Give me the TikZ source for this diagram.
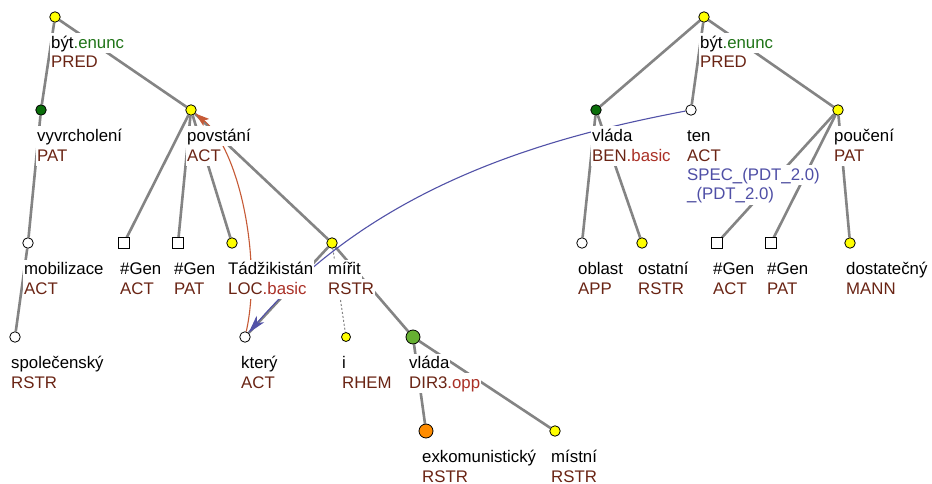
\documentclass[tikz,border=0pt]{standalone}
\usepackage{fontspec}
\setmainfont{Liberation Sans}
\usetikzlibrary{arrows.meta}
\definecolor{edgegray}{HTML}{848484}
\definecolor{funcol}{HTML}{6A2414}
\definecolor{suffred}{HTML}{AA3026}
\definecolor{suffgreen}{HTML}{1F7417}
\definecolor{specblue}{HTML}{4F4FA6}
\definecolor{usblue}{HTML}{2B2B8C}
\definecolor{corefblue}{HTML}{5252A8}
\definecolor{corefred}{HTML}{C65A36}
\definecolor{nodeyellow}{HTML}{FFFF00}
\definecolor{nodedkgreen}{HTML}{0A6E0A}
\definecolor{nodeltgreen}{HTML}{66B032}
\definecolor{nodeorange}{HTML}{FF8C00}
\pgfdeclarelayer{background}
\pgfdeclarelayer{edges}
\pgfsetlayers{background,edges,main}

\begin{document}
\begin{tikzpicture}[x=1pt, y=-1pt,
        tnode/.style={circle, draw, line width=0.8pt, inner sep=0pt, minimum size=10.5pt},
        yel/.style={tnode, fill=nodeyellow},
        wht/.style={tnode, fill=white},
        dgr/.style={tnode, fill=nodedkgreen},
        lgr/.style={tnode, fill=nodeltgreen, minimum size=14pt},
        org/.style={tnode, fill=nodeorange, minimum size=14pt},
        gen/.style={rectangle, draw, line width=0.8pt, fill=white, inner sep=0pt, minimum size=10.5pt},
        lem/.style={anchor=base west, fill=white, inner sep=1pt, text height=14pt, text depth=4pt, font=\fontsize{16.8}{20}\selectfont},
        fun/.style={lem, text=funcol},
        spec/.style={lem, text=specblue},
        edge/.style={draw=edgegray, line width=2.6pt},
        coref/.style={line width=1.1pt}
    ]
    \begin{pgfonlayer}{background}
        \fill[white] (0,0) rectangle (932,484);
    \end{pgfonlayer}
    \useasboundingbox (0,0) rectangle (932,484);

    % Left tree
    \node[yel] (byt1) at (55,17) {};
    \node[dgr] (vyvr) at (41,110) {};
    \node[yel] (povst) at (191,110) {};
    \node[wht] (mobil) at (28,243) {};
    \node[wht] (spol) at (15,337) {};
    \node[gen] (gena1) at (124,243) {};
    \node[gen] (genp1) at (178,243) {};
    \node[yel] (tadz) at (232,243) {};
    \node[yel] (mirit) at (332,243) {};
    \node[wht] (ktery) at (245,337) {};
    \node[yel, minimum size=9pt] (irhem) at (346,337) {};
    \node[lgr] (vlada2) at (413,337) {};
    \node[org] (exkom) at (426,431) {};
    \node[yel] (mistni) at (555,431) {};

    % Right tree
    \node[yel] (byt2) at (704,17) {};
    \node[dgr] (vlada1) at (596,110) {};
    \node[wht] (ten) at (691,110) {};
    \node[yel] (pouc) at (838,110) {};
    \node[wht] (oblast) at (582,243) {};
    \node[yel] (ostat) at (642,243) {};
    \node[gen] (gena2) at (717,243) {};
    \node[gen] (genp2) at (771,243) {};
    \node[yel] (dost) at (850,243) {};

    % Labels, left tree
    \node[lem] (byt1-t) at (50,48.5) {být\textcolor{suffgreen}{.enunc}};
    \node[fun] (byt1-f) at (50,68) {PRED};
    \node[lem] (vyvr-t) at (36,141.5) {vyvrcholení};
    \node[fun] (vyvr-f) at (36,161) {PAT};
    \node[lem] (povst-t) at (186,141.5) {povstání};
    \node[fun] (povst-f) at (186,161) {ACT};
    \node[lem] (mobil-t) at (23,274.5) {mobilizace};
    \node[fun] (mobil-f) at (23,294) {ACT};
    \node[lem] (spol-t) at (10,368.5) {společenský};
    \node[fun] (spol-f) at (10,388) {RSTR};
    \node[lem] (gena1-t) at (119,274.5) {\#Gen};
    \node[fun] (gena1-f) at (119,294) {ACT};
    \node[lem] (genp1-t) at (173,274.5) {\#Gen};
    \node[fun] (genp1-f) at (173,294) {PAT};
    \node[lem] (tadz-t) at (227,274.5) {Tádžikistán};
    \node[fun] (tadz-f) at (227,294) {LOC\textcolor{suffred}{.basic}};
    \node[lem] (mirit-t) at (327,274.5) {mířit};
    \node[fun] (mirit-f) at (327,294) {RSTR};
    \node[lem] (ktery-t) at (240,368.5) {který};
    \node[fun] (ktery-f) at (240,388) {ACT};
    \node[lem] (irhem-t) at (341,368.5) {i};
    \node[fun] (irhem-f) at (341,388) {RHEM};
    \node[lem] (vlada2-t) at (408,368.5) {vláda};
    \node[fun] (vlada2-f) at (408,388) {DIR3\textcolor{suffred}{.opp}};
    \node[lem] (exkom-t) at (421,462.5) {exkomunistický};
    \node[fun] (exkom-f) at (421,482) {RSTR};
    \node[lem] (mistni-t) at (550,462.5) {místní};
    \node[fun] (mistni-f) at (550,482) {RSTR};

    % Labels, right tree
    \node[lem] (byt2-t) at (699,48.5) {být\textcolor{suffgreen}{.enunc}};
    \node[fun] (byt2-f) at (699,68) {PRED};
    \node[lem] (vlada1-t) at (591,141.5) {vláda};
    \node[fun] (vlada1-f) at (591,161) {BEN\textcolor{suffred}{.basic}};
    \node[lem] (ten-t) at (686,141.5) {ten};
    \node[fun] (ten-f) at (686,161) {ACT};
    \node[spec] (ten-s1) at (686,180.5) {SPEC\textcolor{usblue}{\_}(PDT\textcolor{usblue}{\_}2.0)};
    \node[spec] (ten-s2) at (686,200) {\textcolor{usblue}{\_}(PDT\textcolor{usblue}{\_}2.0)};
    \node[lem] (pouc-t) at (833,141.5) {poučení};
    \node[fun] (pouc-f) at (833,161) {PAT};
    \node[lem] (oblast-t) at (577,274.5) {oblast};
    \node[fun] (oblast-f) at (577,294) {APP};
    \node[lem] (ostat-t) at (637,274.5) {ostatní};
    \node[fun] (ostat-f) at (637,294) {RSTR};
    \node[lem] (gena2-t) at (712,274.5) {\#Gen};
    \node[fun] (gena2-f) at (712,294) {ACT};
    \node[lem] (genp2-t) at (766,274.5) {\#Gen};
    \node[fun] (genp2-f) at (766,294) {PAT};
    \node[lem] (dost-t) at (845,274.5) {dostatečný};
    \node[fun] (dost-f) at (845,294) {MANN};

    \begin{pgfonlayer}{edges}
        % Tree edges
        \draw[edge] (byt1) -- (vyvr);
        \draw[edge] (byt1) -- (povst);
        \draw[edge] (vyvr) -- (mobil);
        \draw[edge] (mobil) -- (spol);
        \draw[edge] (povst) -- (gena1);
        \draw[edge] (povst) -- (genp1);
        \draw[edge] (povst) -- (tadz);
        \draw[edge] (povst) -- (mirit);
        \draw[edge] (mirit) -- (ktery);
        \draw[draw=edgegray, line width=1pt, dash pattern=on 2pt off 2pt] (mirit) -- (irhem);
        \draw[edge] (mirit) -- (vlada2);
        \draw[edge] (vlada2) -- (exkom);
        \draw[edge] (vlada2) -- (mistni);
        \draw[edge] (byt2) -- (vlada1);
        \draw[edge] (byt2) -- (ten);
        \draw[edge] (byt2) -- (pouc);
        \draw[edge] (vlada1) -- (oblast);
        \draw[edge] (vlada1) -- (ostat);
        \draw[edge] (pouc) -- (gena2);
        \draw[edge] (pouc) -- (genp2);
        \draw[edge] (pouc) -- (dost);

        % Coreference arrows
        \draw[coref, draw=corefblue, -{Stealth[length=18pt, width=10pt, inset=5pt]}]
            (ten) .. controls (560,135) and (380,180) .. (ktery);
        \draw[coref, draw=corefred, -{Stealth[length=14pt, width=9pt, inset=3pt]}]
            (ktery) .. controls (262,262) and (240,150) .. (povst);
    \end{pgfonlayer}
\end{tikzpicture}
\end{document}
